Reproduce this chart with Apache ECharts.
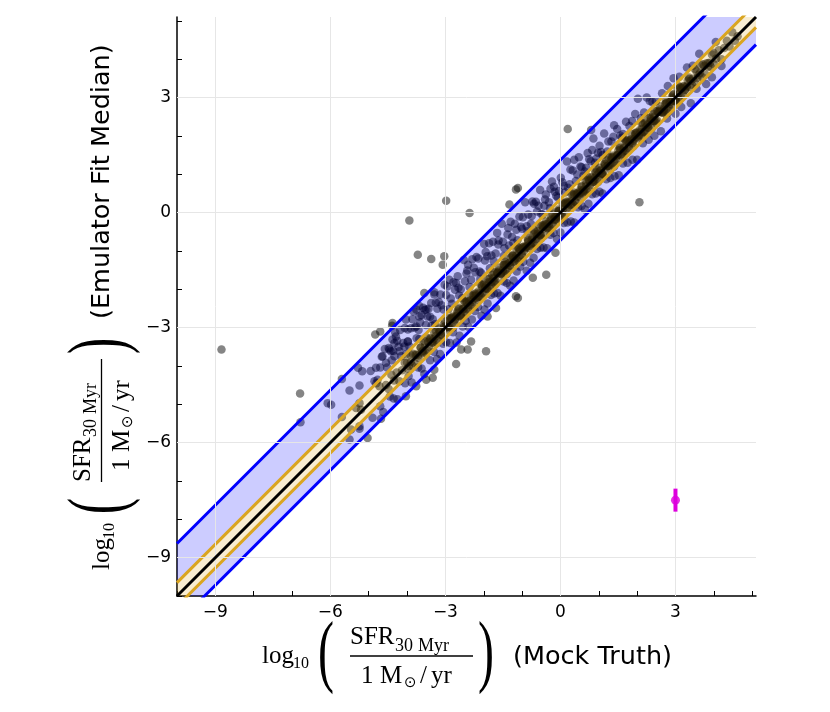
<!DOCTYPE html>
<html lang="en">
<head>
<meta charset="UTF-8">
<title>SFR emulator fit vs mock truth</title>
<style>
    * { padding: 0; margin: 0; }
    #chart { width: 830px; height: 712px; background: #fff; }
</style>
</head>
<body>
<div id="chart"></div>
<script src="https://cdn.jsdelivr.net/npm/echarts@6.0.0/dist/echarts.min.js"></script>
<script>
// axis range and ticks (same on both axes)
const axisMin = -10
const axisMax = 5.1
const tickValues = [-9, -6, -3, 0, 3]
const minorTickValues = [-10, -9, -8, -7, -6, -5, -4, -3, -2, -1, 0, 1, 2, 3, 4, 5]

// fit bands, as offsets from y = x
const blueOffsets = [-0.72, 1.37]
const goldOffsets = [-0.27, 0.35]

// representative error bar (magenta)
const errPoint = [3, -7.5]
const errRange = [-7.8, -7.2]

// sparse points
const outlierPts = [
    [-8.84, -3.57], [-6.79, -4.72], [-6.78, -5.47], [-6.07, -4.97], [-5.98, -5.01], [-5.70, -4.34],
    [-5.70, -5.33], [-5.50, -4.64], [-5.24, -4.51], [-5.17, -4.14], [-5.28, -4.05], [-4.83, -3.18],
    [-4.70, -3.10], [-4.39, -2.95], [-4.81, -4.05], [-4.55, -3.92], [-4.64, -3.75], [-4.42, -3.62],
    [-4.33, -3.40], [-4.29, -3.23], [-4.85, -4.40], [-4.72, -4.53], [-5.20, -5.14], [-5.24, -4.97],
    [-5.33, -5.10], [-5.46, -5.66], [-5.24, -5.64], [-5.03, -5.88], [-5.50, -5.92], [-4.68, -5.38],
    [-4.77, -4.36], [-4.46, -3.57], [-4.38, -3.31], [-4.33, -3.75], [-4.20, -3.62], [-4.07, -3.49],
    [-3.98, -3.36], [-3.98, -3.05], [-3.76, -2.97], [-3.68, -2.71], [-3.50, -2.53], [-3.37, -2.36],
    [-3.55, -2.10], [-3.29, -2.14], [-3.76, -2.53], [-3.68, -2.44], [-4.38, -2.88], [-4.03, -2.79],
    [-4.03, -4.79], [-3.76, -4.53], [-3.50, -4.36], [-3.33, -4.31], [-3.29, -4.10], [-5.24, -5.57],
    [-2.98, 0.31], [-2.37, -0.01], [-3.94, -0.21], [-1.11, 0.64], [-1.16, 0.60], [-1.33, 0.21],
    [-3.72, -1.10], [-3.37, -1.21], [-3.03, -1.14], [-3.07, -1.36], [-0.72, -1.70], [-0.37, -1.62],
    [-1.16, -2.18], [-1.11, -2.23], [-1.68, -2.49], [-1.90, -2.71], [-2.33, -3.36], [-2.59, -3.57],
    [-2.42, -3.57], [-1.94, -3.62], [-2.72, -3.95], [0.19, 2.18], [0.80, 2.15], [2.06, 0.27],
    [-0.13, -1.05]
]

// points spread inside the blue band
const bandPts = [
    [-4.48, -3.53], [-4.40, -3.85], [-4.31, -3.13], [-4.22, -3.50], [-4.15, -3.75], [-4.06, -3.01],
    [-3.98, -3.36], [-3.90, -3.02], [-3.83, -2.58], [-3.75, -3.28], [-3.66, -2.86], [-3.58, -2.48],
    [-3.51, -2.93], [-3.44, -2.51], [-3.36, -2.95], [-3.29, -2.08], [-3.21, -2.51], [-3.13, -2.14],
    [-3.05, -2.53], [-2.98, -2.15], [-2.90, -1.75], [-2.83, -2.38], [-2.75, -2.01], [-2.68, -1.66],
    [-2.60, -2.00], [-2.52, -1.24], [-2.45, -1.59], [-2.37, -1.94], [-2.30, -1.22], [-2.22, -1.56],
    [-2.14, -1.20], [-2.07, -1.57], [-1.99, -0.82], [-1.91, -1.14], [-1.84, -1.45], [-1.76, -0.76],
    [-1.69, -1.07], [-1.61, -0.73], [-1.53, -0.29], [-1.46, -0.93], [-1.38, -0.57], [-1.30, -0.24],
    [-1.23, -0.79], [-1.15, -0.45], [-1.07, -0.10], [-1.00, -0.42], [-0.92, 0.27], [-0.84, -0.05],
    [-0.77, -0.29], [-0.69, 0.23], [-0.61, 0.03], [-0.53, 0.59], [-0.46, -0.05], [-0.38, 0.47],
    [-0.30, 0.27], [-0.22, 0.81], [-0.15, 0.54], [-0.07, 0.39], [0.01, 0.91], [0.09, 0.70],
    [0.17, 1.33], [0.24, 0.74], [0.32, 1.10], [0.40, 0.82], [0.48, 1.44], [0.55, 1.18],
    [0.63, 1.07], [0.71, 1.55], [0.79, 1.34], [0.86, 1.93], [0.94, 1.41], [1.02, 1.74],
    [1.10, 1.50], [1.25, 1.85], [1.40, 2.28], [1.56, 2.01], [1.71, 2.37], [1.87, 2.39],
    [2.02, 2.97], [2.18, 2.61], [2.33, 2.91], [2.49, 2.90], [2.80, 3.30], [3.10, 3.54],
    [3.45, 3.83],
    [-4.95, -4.13], [-4.70, -4.04], [-4.58, -3.56], [-4.26, -3.34], [-4.10, -3.40], [-3.94, -3.49],
    [-3.86, -2.78], [-3.70, -3.06], [-3.62, -2.67], [-3.47, -2.71], [-3.33, -2.78], [-3.25, -2.35],
    [-3.10, -2.42], [-2.95, -1.93], [-2.86, -2.24], [-2.72, -1.84], [-2.64, -2.16], [-2.49, -1.79],
    [-2.41, -1.36], [-2.26, -1.44], [-2.11, -1.54], [-1.95, -1.03], [-1.80, -1.12], [-1.65, -0.53],
    [-1.50, -0.76], [-1.34, -0.86], [-1.19, -0.29], [-1.03, -0.37], [-0.88, -0.36], [-0.73, 0.29],
    [-0.57, 0.18], [-0.42, 0.18], [-0.26, 0.62], [-0.11, 0.44], [0.05, 0.79], [0.20, 0.65],
    [0.36, 1.38], [0.52, 1.20], [0.67, 1.17], [0.83, 1.63], [0.98, 1.56], [1.14, 2.06],
    [1.33, 1.85], [1.48, 2.18], [1.63, 2.05], [1.95, 2.57], [2.25, 3.00], [2.65, 3.11],
    [2.95, 3.50], [3.30, 3.78], [3.62, 4.14], [4.05, 4.45],
    [-4.80, -4.45], [-4.66, -3.76], [-4.52, -4.04], [-4.36, -3.61], [-4.18, -3.06], [-4.02, -3.69],
    [-3.80, -3.00], [-3.68, -3.30], [-3.54, -2.54], [-3.40, -2.72], [-3.27, -2.91], [-3.17, -2.33],
    [-3.02, -1.88], [-2.92, -2.52], [-2.79, -1.82], [-2.66, -1.96], [-2.56, -2.23], [-2.43, -1.51],
    [-2.33, -1.75], [-2.19, -1.16], [-2.09, -1.73], [-1.97, -1.25], [-1.86, -0.80], [-1.74, -1.27],
    [-1.62, -0.83], [-1.48, -1.13], [-1.36, -0.40], [-1.26, -0.64], [-1.12, -0.72], [-0.98, -0.12],
    [-0.86, -0.49], [-0.75, -0.09], [-0.64, 0.28], [-0.50, -0.04], [-0.40, 0.34], [-0.27, 0.11],
    [-0.17, 0.67], [-0.04, 0.56], [0.12, 0.52], [0.26, 1.12], [0.44, 0.99], [0.60, 0.96],
    [0.75, 1.39], [0.90, 1.30], [1.06, 1.58], [1.22, 1.59], [1.38, 1.98], [1.60, 1.95],
    [1.80, 2.26], [2.10, 2.46], [2.40, 2.88],
    [-4.90, -5.35], [-4.62, -5.20], [-4.45, -4.80], [-4.25, -4.87], [-4.05, -4.45], [-3.88, -4.43],
    [-3.71, -4.04], [-3.55, -4.21], [-3.40, -3.85], [-3.22, -3.82], [-3.06, -3.42], [-2.88, -3.40],
    [-2.71, -3.39], [-2.55, -2.97], [-2.40, -2.98], [-2.23, -2.57], [-2.06, -2.69], [-1.90, -2.37],
    [-1.73, -2.11], [-1.56, -2.17], [-1.40, -1.84], [-1.22, -1.77], [-1.05, -1.41], [-0.88, -1.52],
    [-0.70, -1.18], [-0.52, -0.92], [-0.35, -0.93], [-0.18, -0.53], [0.00, -0.52], [0.18, -0.26],
    [0.36, -0.26], [0.55, 0.17], [0.73, 0.23], [0.92, 0.50], [1.10, 0.50], [1.30, 0.90],
    [1.52, 0.97], [1.75, 1.30], [2.00, 1.38], [2.30, 1.90], [2.62, 2.12], [3.00, 2.58],
    [3.40, 2.85], [3.80, 3.35], [4.20, 3.82],
    [-4.70, -5.05], [-4.35, -4.85], [-3.96, -4.26], [-3.62, -4.07], [-3.30, -3.63], [-3.14, -3.69],
    [-2.98, -3.38], [-2.80, -3.12], [-2.63, -3.21], [-2.47, -2.83], [-2.31, -2.79], [-2.15, -2.46],
    [-1.98, -2.53], [-1.81, -2.15], [-1.64, -2.10], [-1.48, -1.80], [-1.31, -1.91], [-1.14, -1.54],
    [-0.97, -1.28], [-0.79, -1.31], [-0.61, -0.95], [-0.44, -0.91], [-0.26, -0.58], [-0.09, -0.69],
    [0.09, -0.27], [0.27, -0.23], [0.46, 0.14], [0.64, 0.08], [0.83, 0.48], [1.02, 0.54],
    [1.20, 0.87], [1.41, 0.95], [1.63, 1.28], [1.88, 1.38], [2.15, 1.81], [2.45, 2.00],
    [2.78, 2.45], [3.15, 2.75], [3.55, 3.23], [3.95, 3.53]
]

// dense core along the one-to-one line
const corePts = [
    [-4.55, -4.50], [-4.48, -4.60], [-4.41, -4.23], [-4.34, -4.38], [-4.27, -4.17], [-4.20, -4.40],
    [-4.13, -4.11], [-4.06, -3.92], [-3.99, -4.07], [-3.92, -3.70], [-3.85, -4.00], [-3.78, -3.71],
    [-3.71, -3.73], [-3.64, -3.52], [-3.57, -3.67], [-3.50, -3.25], [-3.43, -3.49], [-3.36, -3.36],
    [-3.29, -3.13], [-3.22, -3.40], [-3.15, -3.10], [-3.08, -3.20], [-3.01, -2.83], [-2.94, -2.98],
    [-2.87, -2.77], [-2.80, -3.00], [-2.73, -2.71], [-2.66, -2.52], [-2.59, -2.67], [-2.52, -2.30],
    [-2.45, -2.60], [-2.38, -2.31], [-2.31, -2.33], [-2.24, -2.12], [-2.17, -2.27], [-2.10, -1.85],
    [-2.03, -2.09], [-1.96, -1.96], [-1.89, -1.73], [-1.82, -2.00], [-1.75, -1.70], [-1.68, -1.80],
    [-1.61, -1.43], [-1.54, -1.58], [-1.47, -1.37], [-1.40, -1.60], [-1.33, -1.31], [-1.26, -1.12],
    [-1.19, -1.27], [-1.12, -0.90], [-1.05, -1.20], [-0.98, -0.91], [-0.91, -0.93], [-0.84, -0.72],
    [-0.77, -0.87], [-0.70, -0.45], [-0.63, -0.69], [-0.56, -0.56], [-0.49, -0.33], [-0.42, -0.60],
    [-0.35, -0.30], [-0.28, -0.40], [-0.21, -0.03], [-0.14, -0.18], [-0.07, 0.03], [0.00, -0.20],
    [0.07, 0.09], [0.14, 0.28], [0.21, 0.13], [0.28, 0.50], [0.35, 0.20], [0.42, 0.49],
    [0.49, 0.47], [0.56, 0.68], [0.63, 0.53], [0.70, 0.95], [0.77, 0.71], [0.84, 0.84],
    [0.91, 1.07], [0.98, 0.80], [1.05, 1.10], [1.12, 1.00], [1.19, 1.37], [1.26, 1.22],
    [1.33, 1.43], [1.40, 1.20], [1.47, 1.49], [1.54, 1.68], [1.61, 1.53], [1.68, 1.90],
    [1.75, 1.60], [1.82, 1.89], [1.89, 1.87], [1.96, 2.08], [2.03, 1.93], [2.10, 2.35],
    [2.17, 2.11], [2.24, 2.24], [2.31, 2.47], [2.38, 2.20], [2.45, 2.50], [2.52, 2.40],
    [2.59, 2.77], [2.66, 2.62], [2.73, 2.83], [2.80, 2.60], [2.87, 2.89], [2.94, 3.08],
    [3.01, 2.93], [3.08, 3.30], [3.15, 3.00], [3.22, 3.29], [3.29, 3.27], [3.36, 3.48],
    [3.43, 3.33], [3.50, 3.75], [3.57, 3.51], [3.64, 3.64], [3.71, 3.87], [3.78, 3.60],
    [3.85, 3.90], [3.92, 3.80], [3.99, 4.17], [4.06, 4.02], [4.13, 4.23], [4.20, 4.00],
    [4.27, 4.29], [4.34, 4.48], [4.41, 4.33], [4.48, 4.70], [4.55, 4.48], [4.62, 4.60]
]

// further passes through the core
const coreFillPts = [
    [-3.60, -3.63], [-3.53, -3.45], [-3.46, -3.60], [-3.39, -3.28], [-3.32, -3.39], [-3.25, -3.22],
    [-3.18, -3.03], [-3.11, -3.22], [-3.04, -2.98], [-2.97, -2.98], [-2.90, -2.93], [-2.83, -2.75],
    [-2.76, -2.90], [-2.69, -2.58], [-2.62, -2.69], [-2.55, -2.52], [-2.48, -2.33], [-2.41, -2.52],
    [-2.34, -2.28], [-2.27, -2.28], [-2.20, -2.23], [-2.13, -2.05], [-2.06, -2.20], [-1.99, -1.88],
    [-1.92, -1.99], [-1.85, -1.82], [-1.78, -1.63], [-1.71, -1.82], [-1.64, -1.58], [-1.57, -1.58],
    [-1.50, -1.53], [-1.43, -1.35], [-1.36, -1.50], [-1.29, -1.18], [-1.22, -1.29], [-1.15, -1.12],
    [-1.08, -0.93], [-1.01, -1.12], [-0.94, -0.88], [-0.87, -0.88], [-0.80, -0.83], [-0.73, -0.65],
    [-0.66, -0.80], [-0.59, -0.48], [-0.52, -0.59], [-0.45, -0.42], [-0.38, -0.23], [-0.31, -0.42],
    [-0.24, -0.18], [-0.17, -0.18], [-0.10, -0.13], [-0.03, 0.05], [0.04, -0.10], [0.11, 0.22],
    [0.18, 0.11], [0.25, 0.28], [0.32, 0.47], [0.39, 0.28], [0.46, 0.52], [0.53, 0.52],
    [0.60, 0.57], [0.67, 0.75], [0.74, 0.60], [0.81, 0.92], [0.88, 0.81], [0.95, 0.98],
    [1.02, 1.17], [1.09, 0.98], [1.16, 1.22], [1.23, 1.22], [1.30, 1.27], [1.37, 1.45],
    [1.44, 1.30], [1.51, 1.62], [1.58, 1.51], [1.65, 1.68], [1.72, 1.87], [1.79, 1.68],
    [1.86, 1.92], [1.93, 1.92], [2.00, 1.97], [2.07, 2.15], [2.14, 2.00], [2.21, 2.32],
    [2.28, 2.21], [2.35, 2.38], [2.42, 2.57], [2.49, 2.38], [2.56, 2.62], [2.63, 2.62],
    [2.70, 2.67], [2.77, 2.85], [2.84, 2.70], [2.91, 3.02], [2.98, 2.91], [3.05, 3.08],
    [3.12, 3.27], [3.19, 3.08],
    [-4.00, -3.91], [-3.95, -4.00], [-3.90, -3.89], [-3.85, -3.68], [-3.80, -3.93], [-3.75, -3.71],
    [-3.70, -3.79], [-3.65, -3.52], [-3.60, -3.61], [-3.55, -3.35], [-3.50, -3.67], [-3.45, -3.37],
    [-3.40, -3.31], [-3.35, -3.40], [-3.30, -3.29], [-3.25, -3.08], [-3.20, -3.33], [-3.15, -3.11],
    [-3.10, -3.19], [-3.05, -2.92], [-3.00, -3.01], [-2.95, -2.75], [-2.90, -3.07], [-2.85, -2.77],
    [-2.80, -2.71], [-2.75, -2.80], [-2.70, -2.69], [-2.65, -2.48], [-2.60, -2.73], [-2.55, -2.51],
    [-2.50, -2.59], [-2.45, -2.32], [-2.40, -2.41], [-2.35, -2.15], [-2.30, -2.47], [-2.25, -2.17],
    [-2.20, -2.11], [-2.15, -2.20], [-2.10, -2.09], [-2.05, -1.88], [-2.00, -2.13], [-1.95, -1.91],
    [-1.90, -1.99], [-1.85, -1.72], [-1.80, -1.81], [-1.75, -1.55], [-1.70, -1.87], [-1.65, -1.57],
    [-1.60, -1.51], [-1.55, -1.60], [-1.50, -1.49], [-1.45, -1.28], [-1.40, -1.53], [-1.35, -1.31],
    [-1.30, -1.39], [-1.25, -1.12], [-1.20, -1.21], [-1.15, -0.95], [-1.10, -1.27], [-1.05, -0.97],
    [-1.00, -0.91], [-0.95, -1.00], [-0.90, -0.89], [-0.85, -0.68], [-0.80, -0.93], [-0.75, -0.71],
    [-0.70, -0.79], [-0.65, -0.52], [-0.60, -0.61], [-0.55, -0.35], [-0.50, -0.67], [-0.45, -0.37],
    [-0.40, -0.31], [-0.35, -0.40], [-0.30, -0.29], [-0.25, -0.08], [-0.20, -0.33], [-0.15, -0.11],
    [-0.10, -0.19], [-0.05, 0.08], [0.00, -0.01], [0.05, 0.25], [0.10, -0.07], [0.15, 0.23],
    [0.20, 0.29], [0.25, 0.20], [0.30, 0.31], [0.35, 0.52], [0.40, 0.27], [0.45, 0.49],
    [0.50, 0.41], [0.55, 0.68], [0.60, 0.59], [0.65, 0.85], [0.70, 0.53], [0.75, 0.83],
    [0.80, 0.89], [0.85, 0.80], [0.90, 0.91], [0.95, 1.12], [1.00, 0.87], [1.05, 1.09],
    [1.10, 1.01], [1.15, 1.28], [1.20, 1.19], [1.25, 1.45], [1.30, 1.13], [1.35, 1.43],
    [1.40, 1.49], [1.45, 1.40], [1.50, 1.51], [1.55, 1.72], [1.60, 1.47], [1.65, 1.69],
    [1.70, 1.61], [1.75, 1.88], [1.80, 1.79], [1.85, 2.05], [1.90, 1.73], [1.95, 2.03],
    [2.00, 2.09], [2.05, 2.00], [2.10, 2.11], [2.15, 2.32], [2.20, 2.07], [2.25, 2.29],
    [2.30, 2.21], [2.35, 2.48], [2.40, 2.39], [2.45, 2.65], [2.50, 2.33], [2.55, 2.63],
    [2.60, 2.69], [2.65, 2.60], [2.70, 2.71], [2.75, 2.92], [2.80, 2.67], [2.85, 2.89],
    [2.90, 2.81], [2.95, 3.08], [3.00, 2.99], [3.05, 3.25], [3.10, 2.93], [3.15, 3.23],
    [3.20, 3.29], [3.25, 3.20], [3.30, 3.31], [3.35, 3.52], [3.40, 3.27], [3.45, 3.49],
    [3.50, 3.41], [3.55, 3.68], [3.60, 3.59], [3.65, 3.85], [3.70, 3.53], [3.75, 3.83],
    [3.80, 3.89], [3.85, 3.80], [3.90, 3.91], [3.95, 4.12], [4.00, 3.87],
    [-3.00, -2.96], [-2.92, -2.99], [-2.84, -2.74], [-2.76, -2.78], [-2.68, -2.62], [-2.60, -2.70],
    [-2.52, -2.51], [-2.44, -2.36], [-2.36, -2.41], [-2.28, -2.16], [-2.20, -2.16], [-2.12, -2.19],
    [-2.04, -1.94], [-1.96, -1.98], [-1.88, -1.82], [-1.80, -1.90], [-1.72, -1.71], [-1.64, -1.56],
    [-1.56, -1.61], [-1.48, -1.36], [-1.40, -1.36], [-1.32, -1.39], [-1.24, -1.14], [-1.16, -1.18],
    [-1.08, -1.02], [-1.00, -1.10], [-0.92, -0.91], [-0.84, -0.76], [-0.76, -0.81], [-0.68, -0.56],
    [-0.60, -0.56], [-0.52, -0.59], [-0.44, -0.34], [-0.36, -0.38], [-0.28, -0.22], [-0.20, -0.30],
    [-0.12, -0.11], [-0.04, 0.04], [0.04, -0.01], [0.12, 0.24], [0.20, 0.24], [0.28, 0.21],
    [0.36, 0.46], [0.44, 0.42], [0.52, 0.58], [0.60, 0.50], [0.68, 0.69], [0.76, 0.84],
    [0.84, 0.79], [0.92, 1.04], [1.00, 1.04], [1.08, 1.01], [1.16, 1.26], [1.24, 1.22],
    [1.32, 1.38], [1.40, 1.30], [1.48, 1.49], [1.56, 1.64], [1.64, 1.59], [1.72, 1.84],
    [1.80, 1.84], [1.88, 1.81], [1.96, 2.06], [2.04, 2.02], [2.12, 2.18], [2.20, 2.10],
    [2.28, 2.29], [2.36, 2.44], [2.44, 2.39], [2.52, 2.64], [2.60, 2.64], [2.68, 2.61],
    [2.76, 2.86], [2.84, 2.82], [2.92, 2.98], [3.00, 2.90], [3.08, 3.09], [3.16, 3.24],
    [3.24, 3.19], [3.32, 3.44], [3.40, 3.44]
]

const allPts = outlierPts.concat(bandPts, corePts, coreFillPts)

const fmtTick = v => (v < 0 ? '\u2212' + Math.abs(v) : String(v))

function offsetLine(off) {
    return [[axisMin, axisMin + off], [axisMax, axisMax + off]]
}

// polygon between two offset lines, clipped to the plot area
function bandRender(lo, hi, fill) {
    return function (params, api) {
        const pts = [
            [axisMin, axisMin + lo], [axisMax, axisMax + lo],
            [axisMax, axisMax + hi], [axisMin, axisMin + hi]
        ].map(p => api.coord(p))
        const cs = params.coordSys
        return {
            type: 'polygon',
            shape: { points: pts },
            style: { fill: fill },
            clipPath: { type: 'rect', shape: { x: cs.x, y: cs.y, width: cs.width, height: cs.height } }
        }
    }
}

function bandSeries(lo, hi, fill) {
    return { type: 'custom', data: [[0, 0]], z: 2, silent: true, clip: true, renderItem: bandRender(lo, hi, fill) }
}

function axisCfg(labelMargin) {
    return {
        type: 'value',
        min: axisMin,
        max: axisMax,
        axisLine: { show: true, onZero: false, lineStyle: { color: '#000', width: 1.5 } },
        axisTick: { show: true, inside: true, length: 5, customValues: minorTickValues, lineStyle: { color: '#000', width: 1 } },
        axisLabel: {
            customValues: tickValues,
            formatter: fmtTick,
            fontFamily: 'DejaVu Sans',
            fontSize: 17,
            color: '#000',
            margin: labelMargin
        },
        splitLine: { show: false }
    }
}

// axis title: log10( SFR_30Myr / 1 Msun/yr ) (tail), built from text pieces
const serif = '"Liberation Serif", "DejaVu Serif", serif'
function titleParts(tail) {
    const t = (text, x, y, size, fam) => ({
        type: 'text', x: x, y: y,
        style: { text: text, font: size + 'px ' + (fam || serif), fill: '#000',
            align: 'left', verticalAlign: 'middle', textAlign: 'left', textVerticalAlign: 'middle' }
    })
    const paren = (ch, x) => ({
        type: 'text', x: x, y: 0, scaleX: 0.75, scaleY: 1.25,
        style: { text: ch, font: '64px ' + serif, fill: '#000',
            align: 'center', verticalAlign: 'middle', textAlign: 'center', textVerticalAlign: 'middle' }
    })
    return [
        t('log', 0, 0.5, 25),
        t('10', 31, 8, 16),
        paren('(', 64),
        t('SFR', 88, -18.5, 25),
        t('30', 133, -10, 18),
        t('Myr', 156, -10, 18),
        { type: 'line', shape: { x1: 88, y1: 0, x2: 211, y2: 0 }, style: { stroke: '#000', lineWidth: 1.3 } },
        t('1', 99, 20.5, 25),
        t('M', 118, 20.5, 25),
        t('\u2299', 142, 27, 15, '"DejaVu Sans", sans-serif'),
        t('/', 158, 20.5, 25),
        t('yr', 169, 20.5, 25),
        paren(')', 224),
        t(tail, 251, 1, 25.5, '"DejaVu Sans", sans-serif')
    ]
}

const chart = echarts.init(document.getElementById('chart'))
chart.setOption({
    animation: false,
    backgroundColor: '#fff',
    grid: { left: 177, top: 17, right: 74, bottom: 116, containLabel: false, outerBoundsMode: 'none' },
    xAxis: axisCfg(8),
    yAxis: axisCfg(6),
    graphic: [
        { type: 'group', x: 262, y: 656, z: 100, children: titleParts('(Mock Truth)') },
        { type: 'group', x: 101.5, y: 570, rotation: Math.PI / 2, z: 100, children: titleParts('(Emulator Fit Median)') }
    ],
    series: [
        {
            type: 'line', data: [], z: 0, silent: true,
            markLine: {
                silent: true, symbol: ['none', 'none'], label: { show: false },
                lineStyle: { color: '#e6e6e6', type: 'solid', width: 1 },
                data: tickValues.map(v => ({ xAxis: v })).concat(tickValues.map(v => ({ yAxis: v })))
            }
        },
        {
            type: 'scatter', data: allPts, z: 1, symbolSize: 8.5,
            itemStyle: { color: 'rgba(0,0,0,0.6)', borderWidth: 0 }
        },
        // translucent fills drawn over the points
        bandSeries(goldOffsets[1], blueOffsets[1], 'rgba(0,0,255,0.2)'),
        bandSeries(blueOffsets[0], goldOffsets[0], 'rgba(0,0,255,0.2)'),
        bandSeries(goldOffsets[0], goldOffsets[1], 'rgba(218,165,32,0.2)'),
        ...blueOffsets.map(o => ({ type: 'line', data: offsetLine(o), z: 4, showSymbol: false, lineStyle: { color: '#0000ff', width: 3 } })),
        ...goldOffsets.map(o => ({ type: 'line', data: offsetLine(o), z: 4, showSymbol: false, lineStyle: { color: '#daa520', width: 3 } })),
        { type: 'line', data: offsetLine(0), z: 5, showSymbol: false, lineStyle: { color: '#000', width: 3 } },
        {
            type: 'line', data: errRange.map(v => [errPoint[0], v]), z: 6, showSymbol: false,
            lineStyle: { color: '#dd00dd', width: 4 }
        },
        { type: 'scatter', data: [errPoint], z: 6, symbolSize: 9, itemStyle: { color: '#dd00dd' } }
    ]
})
</script>
</body>
</html>
